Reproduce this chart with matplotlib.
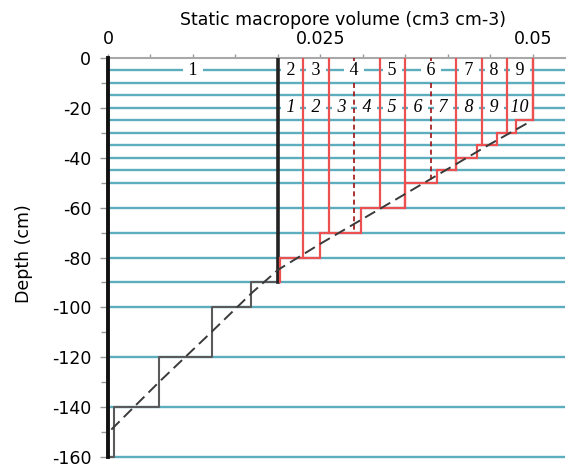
import numpy as np
import matplotlib
matplotlib.use("Agg")
import matplotlib.pyplot as plt
import matplotlib.transforms as mtransforms
from matplotlib.ticker import MultipleLocator, FixedLocator, FixedFormatter

plt.rcParams['axes.unicode_minus'] = False

# ---------------- data ----------------
layer_top = [0, 25, 30, 35, 40, 45, 50, 60, 70, 80, 90, 100, 120, 140]
layer_bottom = [25, 30, 35, 40, 45, 50, 60, 70, 80, 90, 100, 120, 140, 160]
macropore_volume = [0.050, 0.048, 0.0458, 0.0435, 0.041, 0.0387, 0.035,
                    0.0298, 0.025, 0.020, 0.0169, 0.0122, 0.006, 0.0007]
n_red_layers = 10          # layers 0-90 cm drawn in red

grid_depths = [5, 10, 15, 20, 25, 30, 35, 40, 45, 50, 60, 70, 80, 90,
               100, 120, 140, 160]

class_bounds = [0.023, 0.026, 0.029, 0.032, 0.035, 0.038, 0.041, 0.044,
                0.047, 0.050]
dashed_bounds = [0.029, 0.038]

top_label_bounds = [0.0, 0.020, 0.023, 0.026, 0.032, 0.035, 0.041, 0.044,
                    0.047, 0.050]
top_labels = ['1', '2', '3', '4', '5', '6', '7', '8', '9']
top_label_depth = 5

low_label_bounds = [0.020, 0.023, 0.026, 0.029, 0.032, 0.035, 0.038, 0.041,
                    0.044, 0.047, 0.050]
low_labels = ['1', '2', '3', '4', '5', '6', '7', '8', '9', '10']
low_label_depth = 20

fit_x = [0.0004, 0.006, 0.012, 0.017, 0.020, 0.025, 0.030, 0.035, 0.040,
         0.045, 0.0497]
fit_depth = [-149, -130, -110.5, -94, -85, -74.5, -64.5, -54.5, -44.5,
             -34.5, -25.5]

x_ticks = [0, 0.025, 0.05]
x_ticklabels = ['0', '0.025', '0.05']
y_ticks = [0, -20, -40, -60, -80, -100, -120, -140, -160]

# ---------------- figure ----------------
fig = plt.figure(figsize=(5.68, 4.68), dpi=100)
ax = fig.add_axes([0.190, 0.0235, 0.8046, 0.8525])
ax.set_xlim(0, 0.0538)
ax.set_ylim(-160, 0)

cyan = '#5eadbe'
red = '#ec5050'
dark_red = '#a01010'

# horizontal layer lines
ax.hlines([-d for d in grid_depths], 0, 0.0538, colors=cyan, lw=1.7,
          zorder=1, clip_on=False)

# step profile
vals = np.array(macropore_volume)
tops = -np.array(layer_top, dtype=float)
bots = -np.array(layer_bottom, dtype=float)
sx = np.repeat(vals, 2)
sy = np.column_stack([tops, bots]).ravel()
nr = n_red_layers
ax.plot(sx[:2 * nr], sy[:2 * nr], color=red, lw=1.6, zorder=3,
        solid_joinstyle='miter')
ax.plot(np.append(sx[2 * nr - 1:], 0), np.append(sy[2 * nr - 1:], sy[-1]),
        color='#5a5a5a', lw=1.5, zorder=3, clip_on=False)
off = mtransforms.offset_copy(ax.transData, fig=fig, x=2.2, y=0, units='dots')
ax.plot(sx[2 * nr - 2:2 * nr], sy[2 * nr - 2:2 * nr], color=red, lw=1.6,
        zorder=5, transform=off)

# vertical class boundaries down to the profile
for xb in class_bounds:
    end = 0
    for v, t, b in zip(macropore_volume, layer_top, layer_bottom):
        if v < xb - 1e-6:
            end = t
            break
        end = b
    if xb in dashed_bounds:
        ax.plot([xb, xb], [0, -end], color=dark_red, lw=1.2, ls=(0, (3, 2)),
                zorder=3)
    else:
        ax.plot([xb, xb], [0, -end], color=red, lw=1.6, zorder=3)

# black boundaries
ax.plot([0, 0], [0, -160], color='#111111', lw=2.8, zorder=4, clip_on=False)
ax.plot([top_label_bounds[1]] * 2, [0, -layer_bottom[nr - 1]],
        color='#222222', lw=2.6, zorder=4)

# fitted dashed curve
ax.plot(fit_x, fit_depth, color='#3a3a3a', lw=1.4, ls=(0, (6, 3)), zorder=6)

# class labels
bbox = dict(boxstyle='square,pad=0.05', fc='white', ec='none')
for i, lab in enumerate(top_labels):
    xc = 0.5 * (top_label_bounds[i] + top_label_bounds[i + 1])
    ax.text(xc, -top_label_depth, ' ' + lab + ' ', ha='center', va='center',
            family='Liberation Serif', fontsize=13, bbox=bbox, zorder=7)
for i, lab in enumerate(low_labels):
    xc = 0.5 * (low_label_bounds[i] + low_label_bounds[i + 1])
    ax.text(xc, -low_label_depth, ' ' + lab + ' ', ha='center', va='center',
            family='Liberation Serif', style='italic', fontsize=13,
            bbox=bbox, zorder=2)

# axes styling
for s in ['right', 'bottom', 'left']:
    ax.spines[s].set_visible(False)
ax.spines['top'].set_color('#a8a8a8')
ax.spines['top'].set_linewidth(1.5)

ax.xaxis.tick_top()
ax.xaxis.set_major_locator(FixedLocator(x_ticks))
ax.xaxis.set_major_formatter(FixedFormatter(x_ticklabels))
ax.xaxis.set_minor_locator(MultipleLocator(0.005))
ax.tick_params(axis='x', which='both', length=3, width=1, color='#999999',
               pad=4, labelsize=12.5)
ax.yaxis.set_major_locator(FixedLocator(y_ticks))
ax.yaxis.set_minor_locator(MultipleLocator(10))
ax.tick_params(axis='y', which='major', length=6, width=1, color='#999999',
               pad=6, labelsize=12.5)
ax.tick_params(axis='y', which='minor', length=5, width=1, color='#999999')

ax.set_xlabel('Static macropore volume (cm3 cm-3)', fontsize=12.5)
ax.xaxis.set_label_position('top')
ax.xaxis.set_label_coords(0.514, 1.082)
ax.set_ylabel('Depth (cm)', fontsize=12.5)
ax.yaxis.set_label_coords(-0.164, 0.51)

fig.savefig('out.png', dpi=100)
